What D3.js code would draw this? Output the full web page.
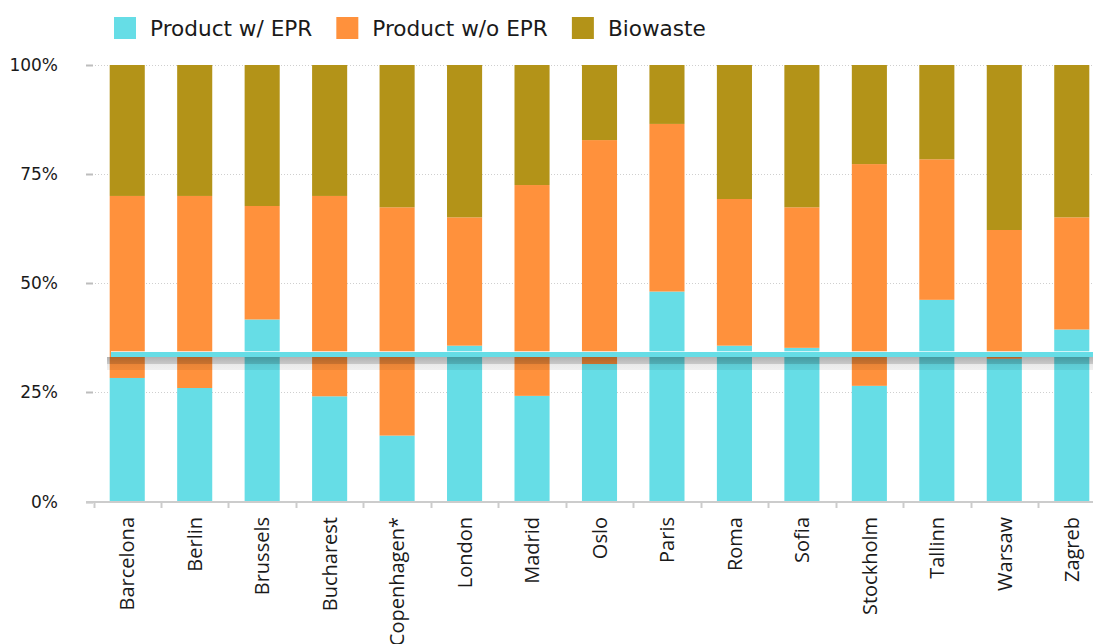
<!DOCTYPE html>
<html>
<head>
<meta charset="utf-8">
<script src="https://cdn.jsdelivr.net/npm/d3@7"></script>
<style>
  body { margin: 0; background: #fff; }
  svg { display: block; }
</style>
</head>
<body>
<div class="chart"></div>
<script>
// values, in percent of each city's total
var cities = ["Barcelona", "Berlin", "Brussels", "Bucharest", "Copenhagen*", "London", "Madrid",
              "Oslo", "Paris", "Roma", "Sofia", "Stockholm", "Tallinn", "Warsaw", "Zagreb"];
var withEpr    = [28.3, 26.0, 41.7, 24.1, 15.1, 35.7, 24.2, 31.5, 48.1, 35.7, 35.2, 26.5, 46.2, 32.7, 39.4];
var withoutEpr = [41.7, 44.0, 26.0, 45.9, 52.3, 29.4, 48.3, 51.3, 38.4, 33.6, 32.2, 50.8, 32.2, 29.5, 25.7];
var biowaste   = [30.0, 30.0, 32.3, 30.0, 32.6, 34.9, 27.5, 17.2, 13.5, 30.7, 32.6, 22.7, 21.6, 37.8, 34.9];
var seriesNames = ["Product w/ EPR", "Product w/o EPR", "Biowaste"];
var yTicks = [0, 25, 50, 75, 100];
var bandValue = 34.3; // the odd cyan bar with a shadow that lies across the plot

var colours = ["#66dde6", "#ff913c", "#b39318"];

var W = 1093, H = 644;
var svg = d3.select(".chart").append("svg").attr("width", W).attr("height", H);

var x = d3.scaleBand().domain(cities).range([93.5, 1105.5]).paddingInner(0.48).paddingOuter(0.24);
var xCell = d3.scaleBand().domain(cities).range([93.5, 1105.5]);
var y = d3.scaleLinear().domain([0, 100]).range([501.5, 65]);

// grid lines
svg.append("g").selectAll("line").data(yTicks.filter(function (t) { return t > 0; }))
  .enter().append("line")
    .attr("x1", 92).attr("x2", W)
    .attr("y1", function (d) { return Math.round(y(d)) + 0.5; })
    .attr("y2", function (d) { return Math.round(y(d)) + 0.5; })
    .attr("stroke", "#cfcfcf").attr("stroke-dasharray", "1,2");

// y tick dashes + labels
var yg = svg.append("g");
yg.selectAll("rect").data(yTicks).enter().append("rect")
    .attr("x", 86).attr("width", 7).attr("height", 2)
    .attr("y", function (d) { return Math.round(y(d)) - 0.5; })
    .attr("fill", "#bdbdbd");
yg.selectAll("text").data(yTicks).enter().append("text")
    .attr("x", 58).attr("y", function (d) { return y(d); })
    .attr("dy", "0.36em").attr("text-anchor", "end")
    .attr("font-family", "DejaVu Sans, Verdana, sans-serif").attr("font-size", 17)
    .attr("fill", "#1a1a1a")
    .text(function (d) { return d + "%"; });

// stacked bars
var rows = cities.map(function (c, i) {
  return { city: c, epr: withEpr[i], noepr: withoutEpr[i], bio: biowaste[i] };
});
var stack = d3.stack().keys(["epr", "noepr", "bio"])
  .offset(d3.stackOffsetExpand);
var layers = stack(rows);

svg.append("g").selectAll("g").data(layers).enter().append("g")
    .attr("fill", function (d, i) { return colours[i]; })
  .selectAll("rect").data(function (d) { return d; }).enter().append("rect")
    .attr("x", function (d) { return x(d.data.city); })
    .attr("width", x.bandwidth())
    .attr("y", function (d) { return y(d[1] * 100); })
    .attr("height", function (d) { return y(d[0] * 100) - y(d[1] * 100); });

// x axis line and ticks
var xg = svg.append("g");
xg.append("line").attr("x1", 86).attr("x2", W).attr("y1", 502).attr("y2", 502)
    .attr("stroke", "#cccccc").attr("stroke-width", 2);
xg.selectAll("line.tk").data(cities).enter().append("line").attr("class", "tk")
    .attr("x1", function (d) { return Math.round(xCell(d)) + 0.5; })
    .attr("x2", function (d) { return Math.round(xCell(d)) + 0.5; })
    .attr("y1", 502).attr("y2", 508)
    .attr("stroke", "#cccccc").attr("stroke-width", 2);
xg.selectAll("text").data(cities).enter().append("text")
    .attr("transform", function (d) {
      return "translate(" + (x(d) + x.bandwidth() / 2) + ",517) rotate(-90)";
    })
    .attr("dy", "0.36em").attr("text-anchor", "end")
    .attr("font-family", "Open Sans, sans-serif").attr("font-size", 20)
    .attr("fill", "#1a1a1a")
    .text(function (d) { return d; });

// cyan band with shadow
var defs = svg.append("defs");
var grad = defs.append("linearGradient").attr("id", "shade")
    .attr("x1", 0).attr("y1", 0).attr("x2", 0).attr("y2", 1);
grad.append("stop").attr("offset", "0%").attr("stop-color", "#000").attr("stop-opacity", 0.3);
grad.append("stop").attr("offset", "50%").attr("stop-color", "#000").attr("stop-opacity", 0.22);
grad.append("stop").attr("offset", "58%").attr("stop-color", "#000").attr("stop-opacity", 0.08);
grad.append("stop").attr("offset", "100%").attr("stop-color", "#000").attr("stop-opacity", 0.06);
var bandY = Math.round(y(bandValue));
svg.append("rect").attr("x", 107).attr("width", W - 107)
    .attr("y", bandY + 5).attr("height", 13).attr("fill", "url(#shade)");
svg.append("rect").attr("x", 111).attr("width", W - 111)
    .attr("y", bandY - 1).attr("height", 1).attr("fill", "#fff").attr("opacity", 0.7);
svg.append("rect").attr("x", 111).attr("width", W - 111)
    .attr("y", bandY).attr("height", 5).attr("fill", colours[0]);

// legend
var lg = svg.append("g");
var lx = 114;
seriesNames.forEach(function (name, i) {
  lg.append("rect").attr("x", lx).attr("y", 17).attr("width", 22).attr("height", 22)
      .attr("fill", colours[i]);
  var t = lg.append("text").attr("x", lx + 36).attr("y", 35.5)
      .attr("font-family", "DejaVu Sans, Verdana, sans-serif").attr("font-size", 21.6)
      .attr("fill", "#1a1a1a").text(name);
  lx += 36 + t.node().getComputedTextLength() + 24;
});
</script>
</body>
</html>
